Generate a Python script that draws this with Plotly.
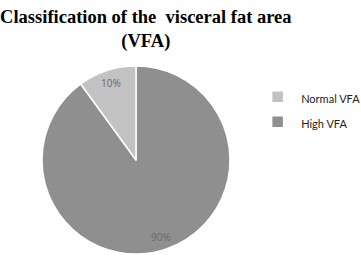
import math
import plotly.graph_objects as go

categories = ["Normal VFA", "High VFA"]
values = [10, 90]
colors = ["#c2c2c2", "#8f8f8f"]
label_texts = ["10%", "90%"]

W, H = 361, 258
# pie domain in pixels
px_left, px_right, px_top, px_bottom = 42, 230, 66, 254
dom_x = [px_left / W, px_right / W]
dom_y = [(H - px_bottom) / H, (H - px_top) / H]
cx, cy = (px_left + px_right) / 2, (px_top + px_bottom) / 2
R = (px_right - px_left) / 2

# draw slices clockwise from 12 o'clock in reversed order (High first, then Normal)
order = [1, 0]
fig = go.Figure(go.Pie(
    labels=[f"<span style='font-size:11px'>{categories[i]}</span>" for i in order],
    values=[values[i] for i in order],
    sort=False,
    direction="clockwise",
    rotation=0,
    marker=dict(colors=[colors[i] for i in order], line=dict(color="white", width=1.5)),
    textinfo="none",
    hoverinfo="label+percent",
    domain=dict(x=dom_x, y=dom_y),
))

total = sum(values)
cum = 0
annotations = []
for i in order:
    v, t = values[i], label_texts[i]
    mid = (cum + v / 2) / total * 2 * math.pi  # clockwise from top
    cum += v
    x = cx + 0.86 * R * math.sin(mid)
    y = cy - 0.86 * R * math.cos(mid)
    annotations.append(dict(
        x=x / W, y=1 - y / H, xref="paper", yref="paper",
        xanchor="center", yanchor="middle",
        text=t, showarrow=False,
        font=dict(family="Open Sans, Liberation Sans", size=10, color="#6a6a6a"),
    ))

fig.update_layout(
    width=W, height=H,
    margin=dict(l=0, r=0, t=0, b=0, autoexpand=False),
    paper_bgcolor="white",
    plot_bgcolor="white",
    title=dict(
        text="<b>Classification of the  visceral fat area<br>(VFA)</b>",
        x=0.404, xanchor="center", y=0.912, yanchor="top",
        font=dict(family="Liberation Serif, Times New Roman", size=18.5, color="black"),
    ),
    legend=dict(
        x=0.704, y=0.693, xanchor="left", yanchor="top",
        traceorder="reversed",
        font=dict(family="Lato, Liberation Sans", size=17, color="#222222"),
        itemwidth=37,
    ),
    annotations=annotations,
)

fig.write_html("out.html")
